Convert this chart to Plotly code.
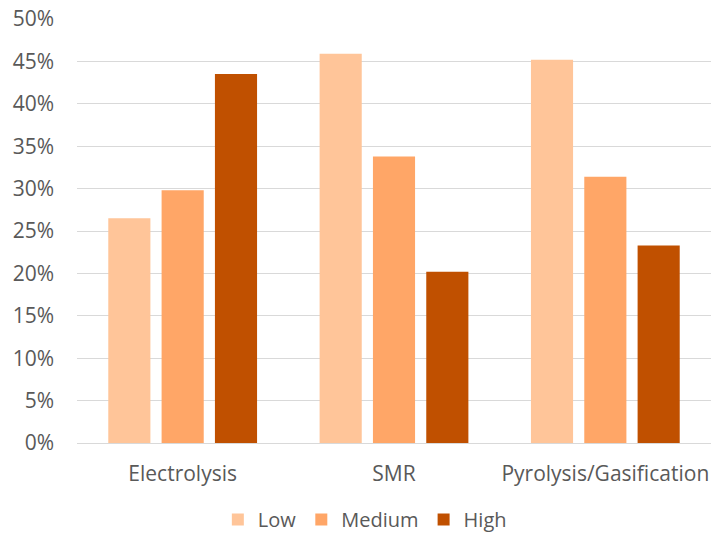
import plotly.graph_objects as go

categories = ["Electrolysis", "SMR", "Pyrolysis/Gasification"]
series_names = ["Low", "Medium", "High"]
low_values = [0.265, 0.459, 0.452]
medium_values = [0.298, 0.338, 0.314]
high_values = [0.435, 0.202, 0.233]
y_tick_values = [0, 0.05, 0.10, 0.15, 0.20, 0.25, 0.30, 0.35, 0.40, 0.45, 0.50]
y_tick_labels = ["0%", "5%", "10%", "15%", "20%", "25%", "30%", "35%", "40%", "45%", "50%"]

colors = ["#FFC599", "#FFA667", "#C05000"]
text_color = "#595959"
font_family = "Open Sans, DejaVu Sans, sans-serif"

fig = go.Figure()
for name, vals, col in zip(series_names, [low_values, medium_values, high_values], colors):
    fig.add_trace(go.Bar(
        x=categories, y=vals, name=name,
        marker=dict(color=col, line=dict(width=0)),
    ))

fig.update_layout(
    width=711, height=539,
    margin=dict(l=77, r=0, t=19, b=96, autoexpand=False),
    paper_bgcolor="white", plot_bgcolor="white",
    barmode="group", bargap=0.243, bargroupgap=0.21,
    font=dict(family=font_family, size=20, color=text_color),
    showlegend=True,
    legend=dict(
        orientation="h", x=0.454, xanchor="center",
        yref="container", y=0.0, yanchor="bottom",
        font=dict(size=20, color=text_color), traceorder="normal",
        itemwidth=30,
    ),
)
fig.update_xaxes(
    showgrid=False, showline=False, zeroline=False, ticks="",
    tickfont=dict(size=21, color=text_color), ticklabelstandoff=16,
    automargin=False,
)
fig.update_yaxes(
    range=[0, 0.5], tickvals=y_tick_values, ticktext=y_tick_labels,
    showgrid=True, gridcolor="#D9D9D9", gridwidth=1.3,
    zeroline=True, zerolinecolor="#D9D9D9", zerolinewidth=1.3,
    showline=False, ticks="", tickfont=dict(size=21, color=text_color),
    ticklabelstandoff=22, automargin=False,
)

fig.write_html("out.html")
